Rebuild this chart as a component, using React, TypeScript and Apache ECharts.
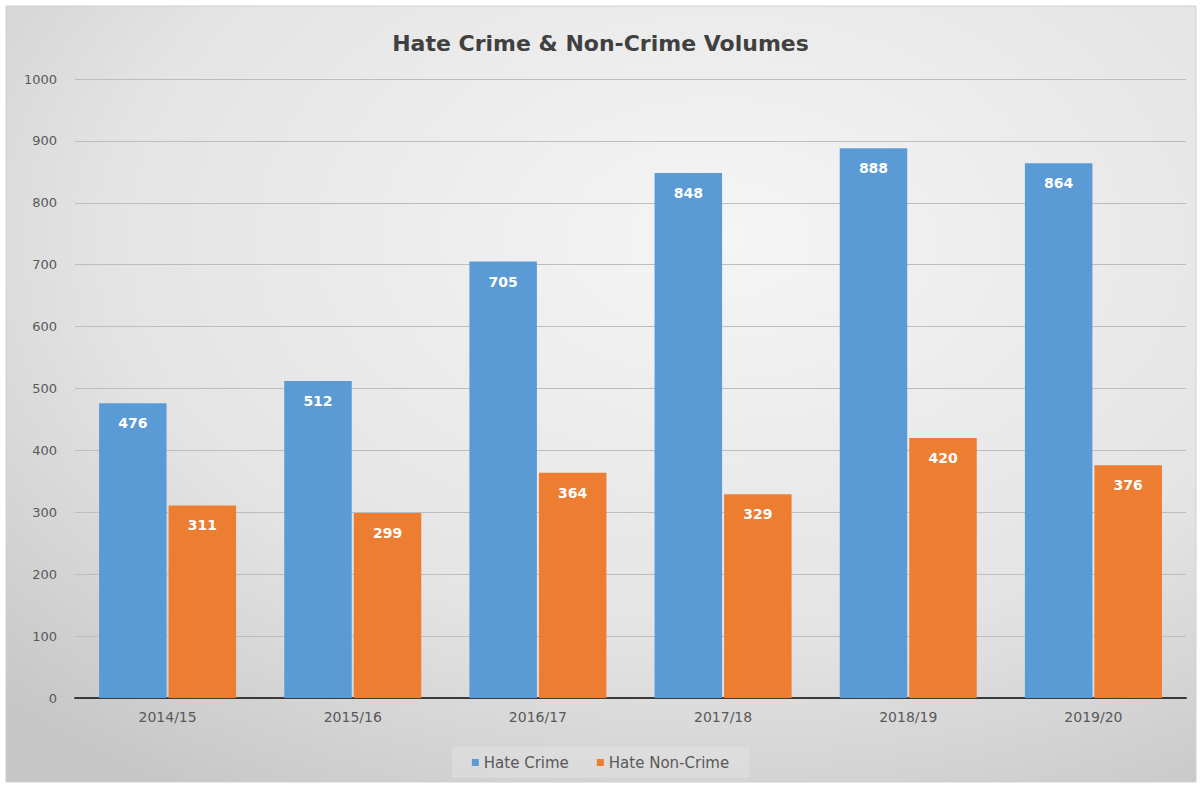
import React, { useEffect, useRef } from "react";
import * as echarts from "echarts";

const categories = ["2014/15", "2015/16", "2016/17", "2017/18", "2018/19", "2019/20"];
const hateCrime = [476, 512, 705, 848, 888, 864];
const hateNonCrime = [311, 299, 364, 329, 420, 376];
const titleText = "Hate Crime & Non-Crime Volumes";
const seriesNames = ["Hate Crime", "Hate Non-Crime"];

const FONT = "'DejaVu Sans', 'Open Sans', sans-serif";

export default function App() {
  const ref = useRef<HTMLDivElement>(null);
  useEffect(() => {
    document.body.style.margin = "0";
    const chart = echarts.init(ref.current!, null, { renderer: "svg" });
    const labelStyle = {
      show: true,
      position: "insideTop" as const,
      distance: 13,
      color: "#ffffff",
      fontWeight: "bold" as const,
      fontSize: 14,
      fontFamily: FONT,
    };
    chart.setOption({
      animation: false,
      graphic: [
        {
          type: "rect",
          z: -10,
          silent: true,
          shape: { x: 6, y: 6, width: 1190, height: 776 },
          style: {
            fill: new echarts.graphic.RadialGradient(0.6, 0.3, 0.85, [
              { offset: 0, color: "#f5f5f5" },
              { offset: 0.6, color: "#e4e4e4" },
              { offset: 1, color: "#c6c6c6" },
            ]),
            stroke: "#d0d0d0",
            lineWidth: 1,
          },
        },
      ],
      title: {
        text: titleText,
        left: "center",
        top: 27,
        textStyle: { fontFamily: FONT, fontSize: 22, fontWeight: "bold", color: "#404040" },
      },
      legend: {
        bottom: 9,
        left: "center",
        itemWidth: 7,
        itemHeight: 7,
        icon: "rect",
        itemGap: 28,
        padding: [8, 20],
        backgroundColor: "rgba(255,255,255,0.18)",
        textStyle: { fontFamily: FONT, fontSize: 15, color: "#595959" },
        data: seriesNames,
      },
      grid: { left: 75, right: 15, top: 79, bottom: 89 },
      xAxis: {
        type: "category",
        data: categories,
        axisLine: { lineStyle: { color: "#3a3a3a", width: 2 } },
        axisTick: { show: false },
        axisLabel: { fontFamily: FONT, fontSize: 14, color: "#595959", margin: 12 },
      },
      yAxis: {
        type: "value",
        min: 0,
        max: 1000,
        interval: 100,
        axisLine: { show: false },
        axisTick: { show: false },
        axisLabel: {
          fontFamily: FONT,
          fontSize: 13,
          color: "#595959",
          margin: 18,
          formatter: (v: number) => String(v),
        },
        splitLine: { lineStyle: { color: "#bdbdbd", width: 1 } },
      },
      series: [
        {
          name: seriesNames[0],
          type: "bar",
          data: hateCrime,
          itemStyle: { color: "#5b9bd5" },
          barGap: "3%",
          barCategoryGap: "26%",
          label: labelStyle,
        },
        {
          name: seriesNames[1],
          type: "bar",
          data: hateNonCrime,
          itemStyle: { color: "#ed7d31" },
          barGap: "3%",
          barCategoryGap: "26%",
          label: labelStyle,
        },
      ],
    });
    return () => chart.dispose();
  }, []);
  return <div ref={ref} style={{ width: 1201, height: 787 }} />;
}
